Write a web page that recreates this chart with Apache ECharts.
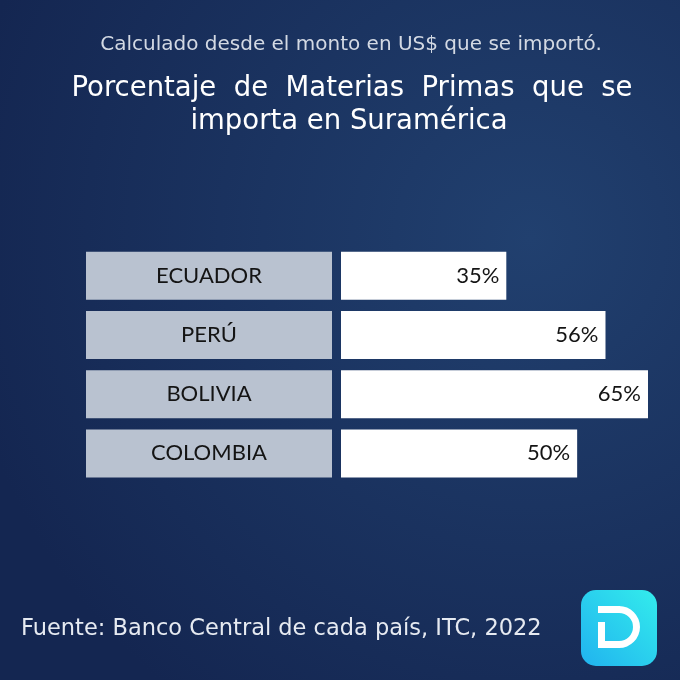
<!DOCTYPE html>
<html>
<head>
<meta charset="utf-8">
<script src="https://cdn.jsdelivr.net/npm/echarts@6/dist/echarts.min.js"></script>
<style>html,body{margin:0;padding:0;background:#172b5a}#c{width:680px;height:680px}</style>
</head>
<body>
<div id="c"></div>
<script>
const categories = ['ECUADOR', 'PERÚ', 'BOLIVIA', 'COLOMBIA'];
const values = [35, 56, 65, 50];
const subtitleText = 'Calculado desde el monto en US$ que se importó.';
const titleLine1 = 'Porcentaje  de  Materias  Primas  que  se';
const titleLine2 = 'importa en Suramérica';
const sourceText = 'Fuente: Banco Central de cada país, ITC, 2022';

const FONT = 'Lato, "Open Sans", sans-serif';
const WIDE = '"DejaVu Sans", "Open Sans", sans-serif';
const chart = echarts.init(document.getElementById('c'));
chart.setOption({
  animation: false,
  backgroundColor: {
    type: 'radial', x: 0.78, y: 0.35, r: 0.85,
    colorStops: [{offset: 0, color: '#21406f'}, {offset: 1, color: '#142651'}]
  },
  title: [
    {
      text: subtitleText, left: 346, textAlign: 'center', top: 30,
      textStyle: {color: '#d3d9e3', fontSize: 20, fontWeight: 'normal', fontFamily: WIDE}
    },
    {
      text: titleLine1, left: 347, textAlign: 'center', top: 70,
      textStyle: {color: '#ffffff', fontSize: 27.5, fontWeight: 'normal', fontFamily: WIDE}
    },
    {
      text: titleLine2, left: 344, textAlign: 'center', top: 103,
      textStyle: {color: '#ffffff', fontSize: 27.5, fontWeight: 'normal', fontFamily: WIDE}
    },
    {
      text: sourceText, left: 16, top: 613,
      textStyle: {color: '#e6eaf1', fontSize: 22.5, fontWeight: 'normal', fontFamily: WIDE}
    }
  ],
  grid: {left: 341, right: 32, top: 246, bottom: 197, containLabel: false},
  xAxis: {type: 'value', min: 0, max: 65, show: false},
  yAxis: {
    type: 'category', data: categories, inverse: true,
    axisLine: {show: false}, axisTick: {show: false}, splitLine: {show: false},
    axisLabel: {
      margin: 9,
      formatter: v => '{b|' + v + '}',
      rich: {
        b: {
          width: 246, height: 48, lineHeight: 48, align: 'center',
          backgroundColor: '#b9c2d0', color: '#141414',
          fontSize: 22, fontFamily: FONT, fontWeight: 400
        }
      }
    }
  },
  series: [{
    type: 'bar', data: values, barWidth: 48,
    itemStyle: {color: '#ffffff'},
    label: {
      show: true, position: 'insideRight', distance: 7,
      formatter: p => p.value + '%',
      color: '#141414', fontSize: 22, fontFamily: FONT, fontWeight: 400
    }
  }],
  graphic: [
    {
      type: 'rect', z: 10,
      shape: {x: 581, y: 590, width: 76, height: 76, r: 15},
      style: {
        fill: {
          type: 'linear', x: 0, y: 1, x2: 1, y2: 0,
          colorStops: [{offset: 0, color: '#21b3ef'}, {offset: 1, color: '#33ecec'}]
        }
      }
    },
    {type: 'rect', z: 11, shape: {x: 598, y: 606, width: 22, height: 7}, style: {fill: '#ffffff'}},
    {type: 'rect', z: 11, shape: {x: 598, y: 641, width: 22, height: 7}, style: {fill: '#ffffff'}},
    {type: 'rect', z: 11, shape: {x: 598, y: 622, width: 7, height: 26}, style: {fill: '#ffffff'}},
    {
      type: 'sector', z: 11,
      shape: {cx: 619, cy: 627, r: 21, r0: 14, startAngle: -Math.PI / 2, endAngle: Math.PI / 2, clockwise: true},
      style: {fill: '#ffffff'}
    }
  ]
});
</script>
</body>
</html>
